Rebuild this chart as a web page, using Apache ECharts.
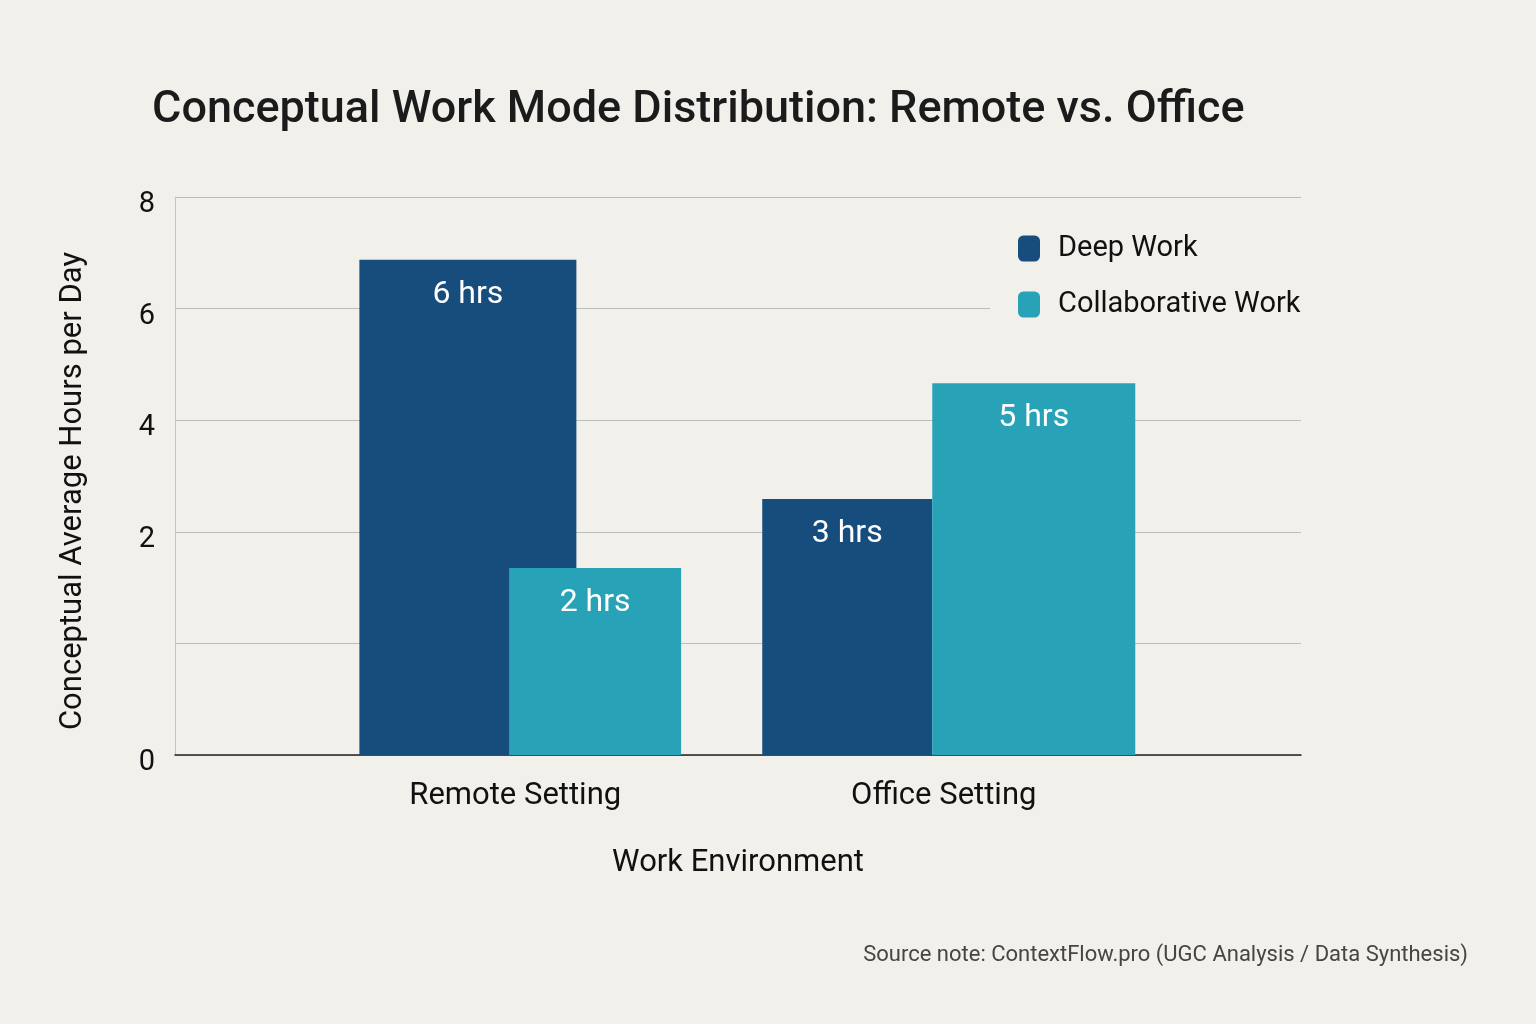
<!DOCTYPE html>
<html>
<head>
<meta charset="utf-8">
<title>Conceptual Work Mode Distribution</title>
<script src="https://cdn.jsdelivr.net/npm/echarts@6/dist/echarts.min.js"></script>
<style>
  html, body { margin: 0; padding: 0; background: #f2f0eb; }
  #myChart { width: 1536px; height: 1024px; }
</style>
</head>
<body>
<div id="myChart"></div>
<script>
// values (bar heights on the drawn 0-8 scale)
const categories = ['Remote Setting', 'Office Setting'];
const deepWork = [7.1, 3.67];
const collabWork = [2.68, 5.33];
// printed labels inside the bars
const deepLabels = ['6 hrs', '3 hrs'];
const collabLabels = ['2 hrs', '5 hrs'];
// y tick labels as printed (one grid line is left blank)
const tickLabels = ['0', '', '2', '4', '6', '8'];

const BG = '#f2f0eb';
const DEEP = '#164d7c';
const COLLAB = '#27a2b7';
const FONT = 'Roboto, "Noto Sans", sans-serif';

// keep only one category per series, so each group can get its own bar widths
function only(arr, idx) {
    return arr.map((v, i) => i === idx ? v : '-');
}

function barLabel(texts) {
    return {
        show: true,
        position: 'insideTop',
        distance: 19,
        color: '#ffffff',
        fontSize: 32,
        fontFamily: FONT,
        formatter: p => texts[p.dataIndex]
    };
}

let chartDom = document.getElementById('myChart');
let myChart = echarts.init(chartDom, null, { renderer: 'canvas' });

let option = {
    backgroundColor: BG,
    animation: false,
    textStyle: { fontFamily: FONT },
    title: [{
        text: 'Conceptual Work Mode Distribution: Remote vs. Office',
        left: 147,
        top: 83,
        textStyle: { fontSize: 45, fontWeight: 500, color: '#1b1b1b', fontFamily: FONT }
    }, {
        text: 'Source note: ContextFlow.pro (UGC Analysis / Data Synthesis)',
        right: 63,
        top: 939,
        textStyle: { fontSize: 22, fontWeight: 'normal', color: '#454545', fontFamily: FONT }
    }],
    legend: {
        orient: 'vertical',
        left: 990,
        top: 220,
        padding: [14, 6, 14, 28],
        backgroundColor: BG,
        itemWidth: 22,
        itemHeight: 26,
        itemGap: 27,
        icon: 'roundRect',
        data: ['Deep Work', 'Collaborative Work'],
        textStyle: { fontSize: 29, color: '#111', padding: [0, 0, 0, 13], fontFamily: FONT }
    },
    grid: [
        { left: 175, right: 235, top: 197, bottom: 269 },   // grid lines and axis frame
        { left: 306, right: 373, top: 197, bottom: 269 }    // bars
    ],
    xAxis: [{
        gridIndex: 0,
        type: 'category',
        data: categories,
        axisTick: { show: false },
        axisLabel: { show: false },
        axisLine: { lineStyle: { color: '#222', width: 1.5 } },
        name: 'Work Environment',
        nameLocation: 'middle',
        nameGap: 93,
        nameTextStyle: { fontSize: 31, color: '#111', fontFamily: FONT }
    }, {
        gridIndex: 1,
        type: 'category',
        data: categories,
        axisTick: { show: false },
        axisLine: { show: false },
        axisLabel: { fontSize: 31, color: '#111', margin: 26, padding: [0, 10, 0, 0], fontFamily: FONT }
    }, {
        gridIndex: 1,
        type: 'category',
        data: categories,
        show: false
    }],
    yAxis: [{
        gridIndex: 0,
        type: 'value',
        min: 0,
        max: 8,
        interval: 1.6,
        axisLine: { show: true, lineStyle: { color: '#c4c4c4', width: 1 } },
        axisTick: { show: false },
        splitLine: { lineStyle: { color: '#bcbcbc', width: 1.2 } },
        axisLabel: {
            margin: 20,
            formatter: (v, i) => tickLabels[i] ? '{t|' + tickLabels[i] + '}' : '',
            rich: {
                t: { fontSize: 29, color: '#111', fontFamily: FONT, padding: [16, 0, 0, 0] }
            }
        },
        name: 'Conceptual Average Hours per Day',
        nameLocation: 'middle',
        nameGap: 86,
        nameRotate: 90,
        nameTextStyle: { fontSize: 31, color: '#111', padding: [0, 30, 0, 0], fontFamily: FONT }
    }, {
        gridIndex: 1,
        type: 'value',
        min: 0,
        max: 8,
        show: false
    }],
    series: [{
        name: 'Deep Work',
        type: 'bar',
        xAxisIndex: 1,
        yAxisIndex: 1,
        data: only(deepWork, 0),
        barWidth: 217,
        barGap: '-31%',
        itemStyle: { color: DEEP },
        label: barLabel(deepLabels)
    }, {
        name: 'Collaborative Work',
        type: 'bar',
        xAxisIndex: 1,
        yAxisIndex: 1,
        data: only(collabWork, 0),
        barWidth: 172,
        barGap: '-31%',
        itemStyle: { color: COLLAB },
        label: barLabel(collabLabels)
    }, {
        name: 'Deep Work',
        type: 'bar',
        xAxisIndex: 2,
        yAxisIndex: 1,
        data: only(deepWork, 1),
        barWidth: 170,
        barGap: 0,
        itemStyle: { color: DEEP },
        label: barLabel(deepLabels)
    }, {
        name: 'Collaborative Work',
        type: 'bar',
        xAxisIndex: 2,
        yAxisIndex: 1,
        data: only(collabWork, 1),
        barWidth: 203,
        barGap: 0,
        itemStyle: { color: COLLAB },
        label: barLabel(collabLabels)
    }]
};

option && myChart.setOption(option);

window.addEventListener('resize', () => {
    myChart.resize();
});
</script>
</body>
</html>
